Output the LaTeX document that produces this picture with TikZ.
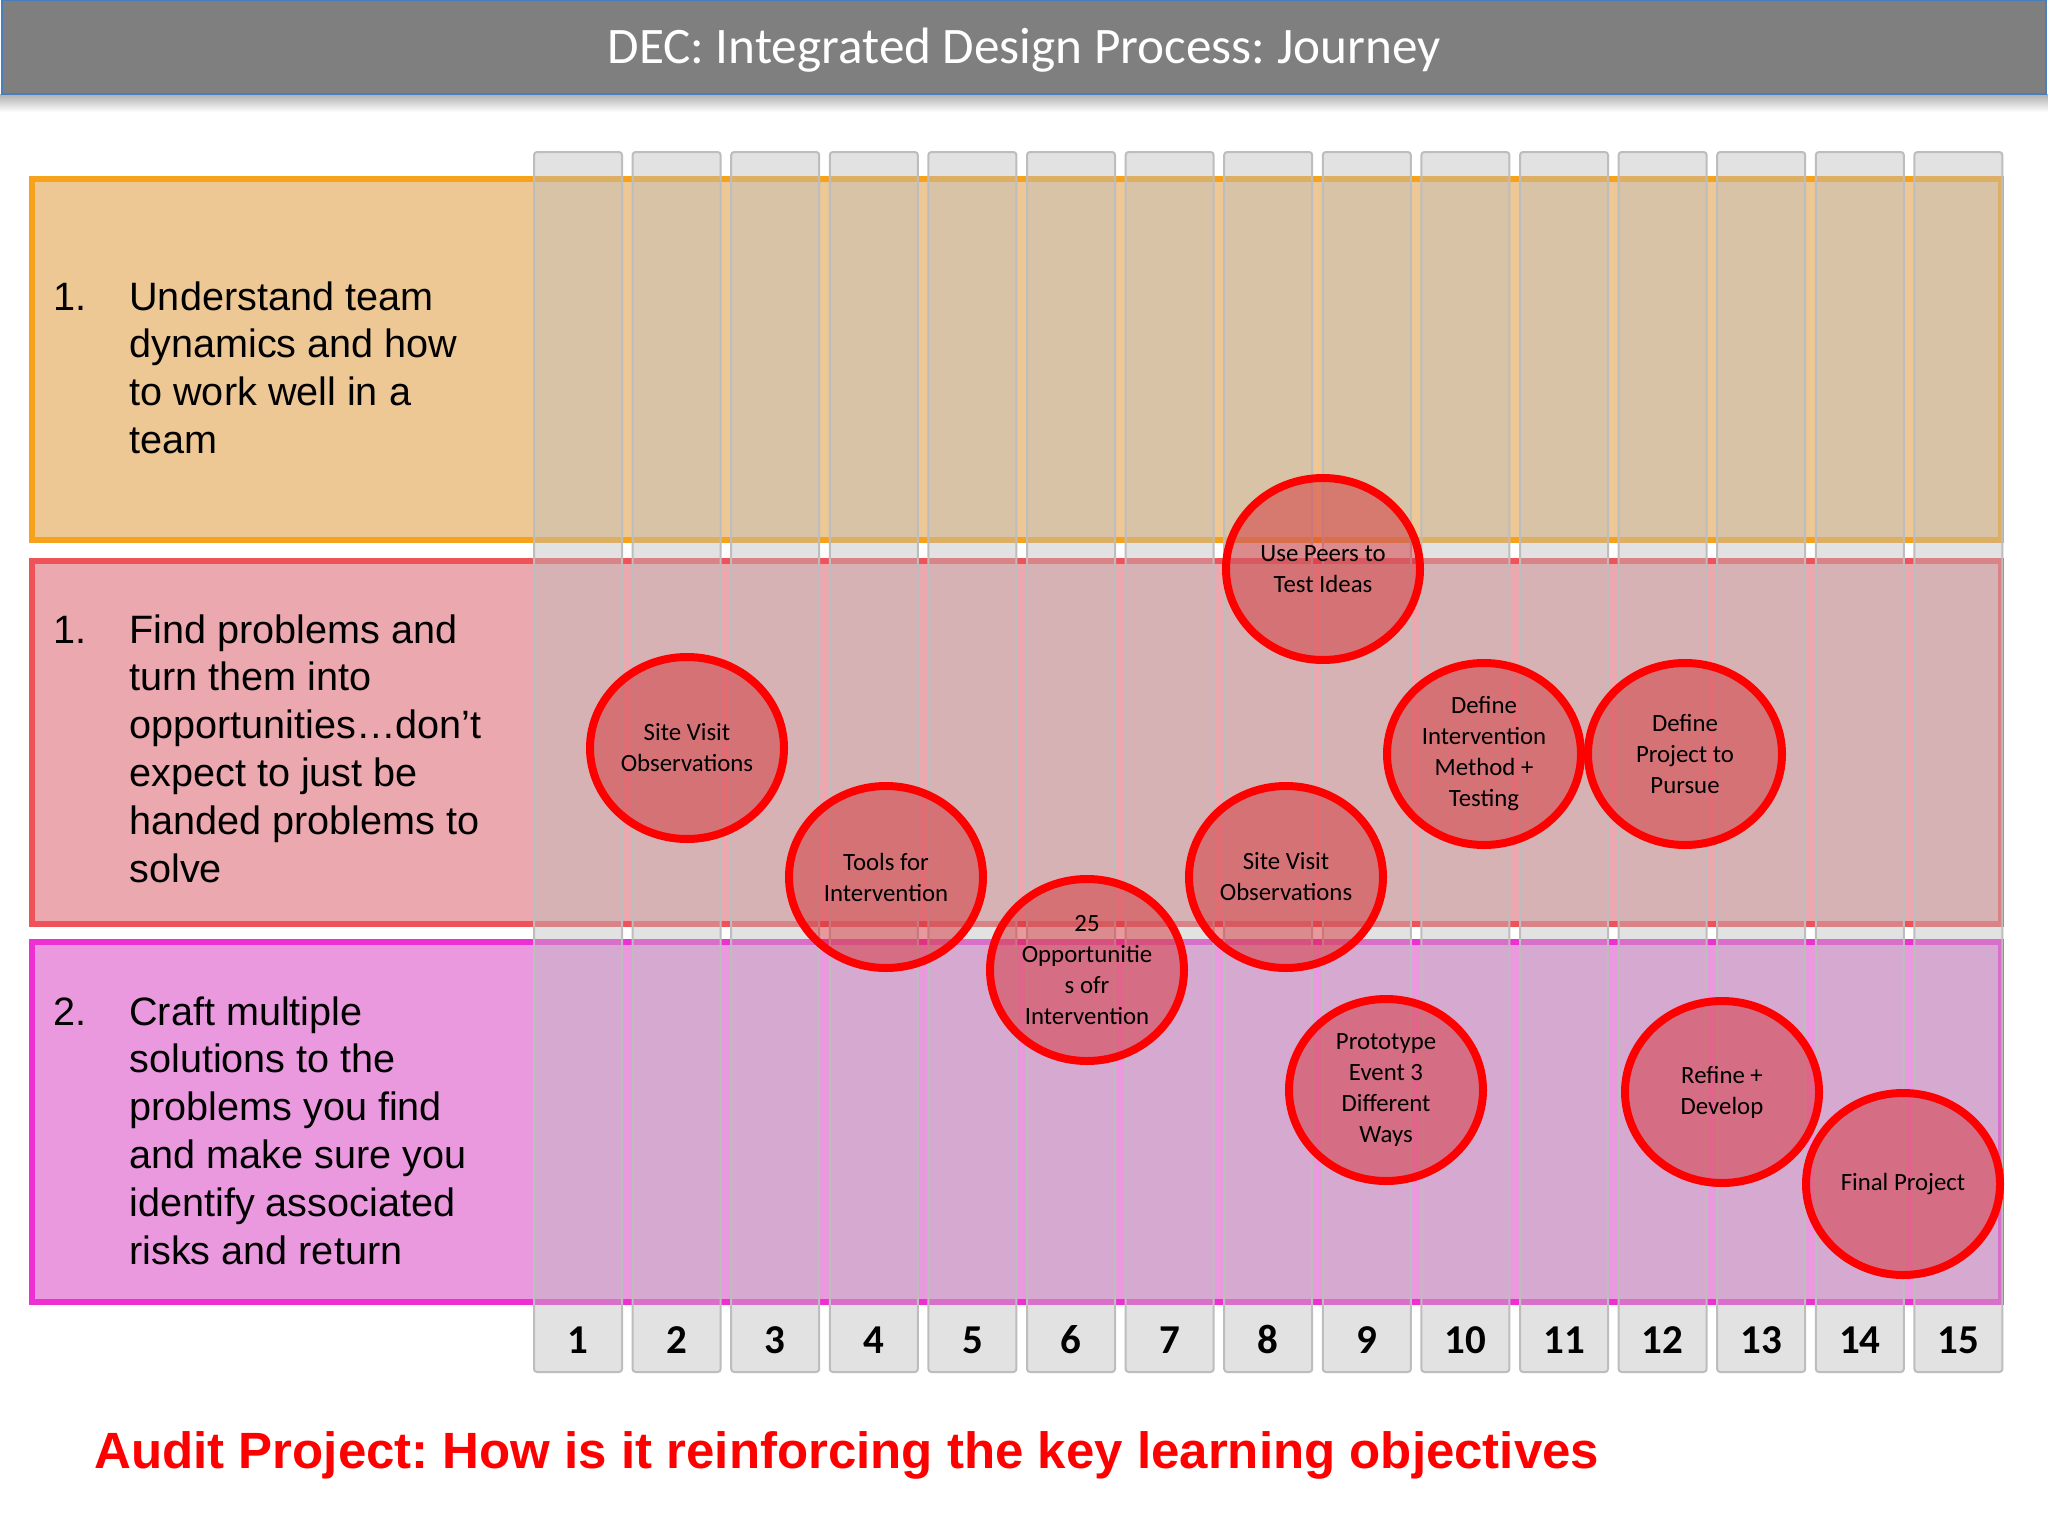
\documentclass[tikz,border=0pt]{standalone}
\usepackage{fontspec}
\setmainfont{Carlito}
\newfontfamily\arialfont{Liberation Sans}
\usetikzlibrary{shapes.geometric}
\frenchspacing
\definecolor{titlegray}{HTML}{7F7F7F}
\definecolor{titleblue}{HTML}{4A7EBB}
\definecolor{rowAfill}{HTML}{EDC794}
\definecolor{rowAdraw}{HTML}{F7A21B}
\definecolor{rowBfill}{HTML}{EBA8AE}
\definecolor{rowBdraw}{HTML}{F0525A}
\definecolor{rowCfill}{HTML}{EA99DE}
\definecolor{rowCdraw}{HTML}{EE30D2}
\definecolor{colgray}{HTML}{BFBFBF}
\definecolor{colline}{HTML}{BDBDBD}
\definecolor{bubfill}{HTML}{D53339}
\definecolor{bubline}{HTML}{FF0000}
\begin{document}
\begin{tikzpicture}[x=0.5pt,y=-0.5pt,
  rowbox/.style={rectangle,line width=3pt,inner sep=0pt,outer sep=0pt,minimum width=984.5pt,anchor=north west},
  colbox/.style={rectangle,rounded corners=1.5pt,draw=colline,line width=1pt,fill=colgray,fill opacity=0.45,
    inner sep=0pt,outer sep=0pt,minimum width=44pt,minimum height=610pt},
  numlabel/.style={anchor=base,font=\bfseries\fontsize{20.5}{24}\selectfont,inner sep=0pt},
  lab/.style={anchor=base west,inner sep=0pt,font=\arialfont\fontsize{19.8}{23.9}\selectfont},
  bubble/.style={ellipse,draw=bubline,line width=4pt,fill=bubfill,fill opacity=0.5,text opacity=1,
    minimum width=97pt,minimum height=91pt,inner sep=0pt,outer sep=0pt,align=center,
    font=\fontsize{12.4}{15.5}\selectfont}]
\useasboundingbox (0,0) rectangle (2048,1536);
\fill[white] (0,0) rectangle (2048,1536);
% title bar
\shade[top color=black!30,bottom color=white] (0,95) rectangle (2048,112);
\node[rectangle,draw=titleblue,line width=1pt,fill=titlegray,minimum width=1022pt,minimum height=47pt,inner sep=0pt]
  (bar) at (1024,47.5) {};
\node[anchor=base,text=white,inner sep=0pt,font=\fontsize{25.6}{30}\selectfont] (titletext) at (1024,64)
  {DEC: Integrated Design Process: Journey};
% rows
\node[rowbox,draw=rowAdraw,fill=rowAfill,minimum height=180.5pt] (rowA) at (32,179) {};
\node[rowbox,draw=rowBdraw,fill=rowBfill,minimum height=181.5pt] (rowB) at (32,561) {};
\node[rowbox,draw=rowCdraw,fill=rowCfill,minimum height=180pt] (rowC) at (32,942) {};
% row labels
\node[lab] (numA) at (53,310) {1.};
\node[lab] (txtA) at (129,310) {\parbox[t]{190pt}{\raggedright Understand team\\dynamics and how\\to work well in a\\team}};
\node[lab] (numB) at (53,643) {1.};
\node[lab] (txtB) at (129,643) {\parbox[t]{190pt}{\raggedright Find problems and\\turn them into\\opportunities…don’t\\expect to just be\\handed problems to\\solve}};
\node[lab] (numC) at (53,1025) {2.};
\node[lab] (txtC) at (129,1025) {\parbox[t]{190pt}{\raggedright Craft multiple\\solutions to the\\problems you find\\and make sure you\\identify associated\\risks and return}};
% columns
\foreach \i in {1,...,15} {
  \node[colbox] (col\i) at ({578+(\i-1)*98.6},762) {};
  \node[numlabel] (num\i) at ({578+(\i-1)*98.6},1353) {\i};
}
% bubbles
\node[bubble] (b1) at (687,748) {Site Visit\\Observations};
\node[bubble] (b2) at (886,877) {Tools for\\Intervention};
\node[bubble] (b3) at (1087,970) {25\\Opportunitie\\s ofr\\Intervention};
\node[bubble] (b4) at (1323,569) {Use Peers to\\Test Ideas};
\node[bubble] (b5) at (1286,877) {Site Visit\\Observations};
\node[bubble] (b6) at (1484,754) {Define\\Intervention\\Method +\\Testing};
\node[bubble] (b7) at (1685,754) {Define\\Project to\\Pursue};
\node[bubble] (b8) at (1386,1090) {Prototype\\Event 3\\Different\\Ways};
\node[bubble] (b9) at (1722,1092) {Refine +\\Develop};
\node[bubble] (b10) at (1903,1184) {Final Project};
% bottom text
\node[anchor=base west,inner sep=0pt,text=red,font=\arialfont\bfseries\fontsize{25.5}{30}\selectfont] (audit) at (94,1468)
  {Audit Project: How is it reinforcing the key learning objectives};
\end{tikzpicture}
\end{document}
